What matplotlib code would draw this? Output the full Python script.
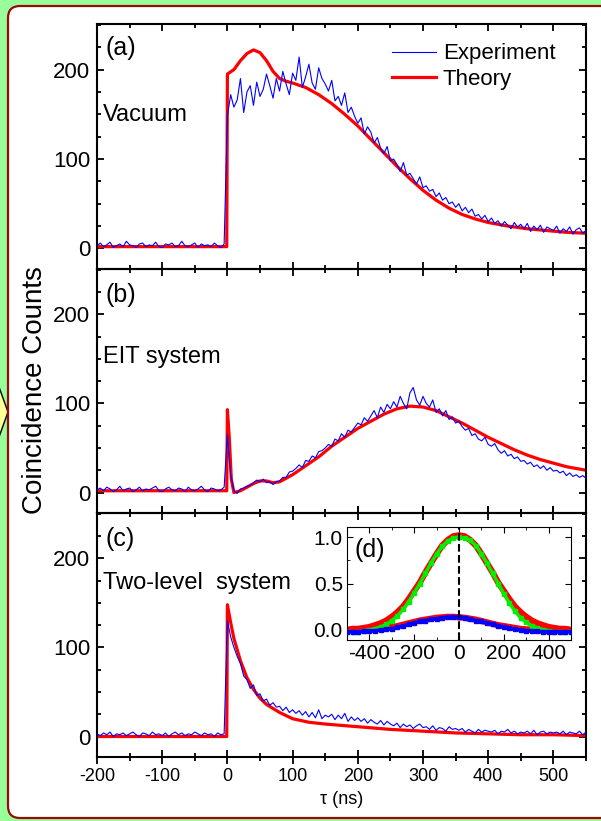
import numpy as np
import matplotlib
matplotlib.use('Agg')
import matplotlib.pyplot as plt
from matplotlib.ticker import MultipleLocator
from matplotlib.patches import FancyBboxPatch, Polygon
from matplotlib.transforms import IdentityTransform

plt.rcParams['font.family'] = ['Liberation Sans', 'DejaVu Sans']
plt.rcParams['axes.unicode_minus'] = False

# ---- data ----
t_exp = np.arange(-200, 551, 5)

exp_a = [3, 6, 2, 4, 7, 1, 3, 5, 2, 8, 4, 3, 1, 5, 6, 2, 4, 3, 7, 2,
         1, 5, 4, 6, 2, 3, 8, 3, 2, 4, 6, 1, 5, 3, 4, 2, 6, 3, 1, 5,
         148, 172, 158, 166, 190, 152, 175, 182, 160, 186, 170,
         178, 195, 182, 168, 190, 176, 198, 184, 172, 196,
         188, 214, 180, 192, 206, 185, 178, 202, 190, 184,
         176, 188, 165, 170, 160, 174, 152, 158, 148, 140,
         146, 128, 136, 130, 118, 124, 112, 106, 114, 98,
         100, 94, 86, 96, 82, 84, 78, 72, 80, 68,
         70, 64, 66, 58, 62, 54, 57, 50, 52, 46,
         50, 42, 46, 40, 44, 36, 38, 33, 37, 30,
         34, 28, 31, 25, 30, 26, 22, 29, 24, 27,
         22, 28, 19, 25, 21, 26, 18, 24, 22, 20,
         25, 17, 22, 19, 24, 16, 21, 23, 17, 20]

exp_b = [3, 5, 2, 6, 4, 1, 3, 7, 2, 4, 5, 1, 3, 6, 2, 4, 3, 5, 7, 2,
         1, 4, 6, 3, 2, 5, 4, 1, 6, 3, 2, 4, 7, 3, 1, 5, 4, 2, 3, 6,
         65, 20, 2, -1, 4, 5, 7, 8, 11, 14, 12, 15, 11, 12, 9, 12, 13, 17, 17, 23, 24,
         27, 31, 28, 36, 35, 41, 39, 46, 47, 50,
         54, 52, 60, 58, 66, 62, 70, 68, 73, 78,
         76, 84, 80, 86, 92, 84, 96, 90, 99, 94,
         102, 96, 108, 100, 94, 112, 118, 104, 98, 108,
         100, 96, 104, 90, 94, 86, 92, 82, 85, 78,
         80, 74, 70, 72, 64, 66, 60, 58, 62, 54,
         52, 55, 48, 44, 47, 41, 43, 38, 40, 35,
         36, 32, 34, 29, 31, 27, 30, 25, 28, 24,
         25, 22, 24, 19, 22, 18, 20, 17, 19, 16]

exp_c = [3, 1, 4, 2, 5, 0, 3, 2, 4, 1, 3, 5, 2, 0, 4, 3, 1, 5, 2, 3,
         1, 4, 0, 3, 5, 2, 4, 1, 3, 2, 5, 3, 1, 4, 2, 3, 0, 4, 2, 3,
         130,
         112, 100, 90, 82, 68, 64, 54, 58, 46, 48,
         40, 42, 35, 38, 33, 34, 29, 33, 27, 30,
         26, 29, 24, 28, 22, 27, 21, 30, 20, 24,
         22, 25, 19, 24, 20, 26, 17, 22, 18, 21,
         17, 20, 15, 19, 16, 14, 18, 13, 17, 14,
         12, 15, 10, 14, 11, 13, 9, 12, 14, 10,
         11, 8, 12, 7, 10, 9, 6, 11, 8, 9,
         7, 9, 5, 8, 6, 4, 8, 5, 7, 6,
         5, 7, 3, 6, 5, 8, 4, 6, 3, 5,
         4, 6, 3, 7, 2, 5, 6, 3, 5, 4,
         5, 3, 6, 2, 5, 4, 3, 6, 2, 5]

t_th_a = [-200, -1, 0, 10, 20, 30, 40, 50, 60, 70, 80, 90, 100, 120, 140, 160, 180,
          200, 220, 240, 260, 280, 300, 320, 340, 360, 380, 400, 430, 460, 490, 520, 550]
th_a = [2, 2, 195, 200, 210, 218, 222, 219, 210, 198, 190, 187, 185, 180, 172, 162, 150,
        137, 122, 107, 92, 78, 65, 54, 45, 38, 33, 29, 25, 22, 20, 18, 17]

t_th_b = [-200, -1, 0, 3, 6, 10, 20, 30, 40, 50, 60, 70, 80, 90, 100, 120, 140, 160, 180,
          200, 220, 240, 260, 280, 300, 320, 340, 360, 380, 400, 420, 440, 460, 480,
          500, 520, 550]
th_b = [2, 2, 93, 60, 15, 0, 2, 6, 10, 13, 13, 11, 12, 16, 20, 30, 40, 52, 62,
        72, 80, 88, 94, 97, 96, 92, 85, 78, 70, 62, 55, 48, 42, 37,
        33, 29, 25]

t_th_c = [-200, -1, 0, 5, 10, 20, 30, 40, 50, 60, 80, 100, 125, 150, 200, 250, 300,
          350, 400, 450, 500, 550]
th_c = [0, 0, 148, 128, 110, 85, 66, 53, 43, 36, 27, 20, 16, 14, 11, 8, 6,
        4, 3, 2, 2, 1]

# inset (d)
t_d = np.arange(-500, 501, 25)
green_d = [-0.02, -0.02, -0.02, -0.01, 0.00, 0.01, 0.03, 0.06, 0.10, 0.15, 0.22,
           0.30, 0.40, 0.50, 0.61, 0.72, 0.82, 0.90, 0.96, 0.99, 1.00,
           0.99, 0.97, 0.91, 0.82, 0.72, 0.61, 0.50, 0.39, 0.29, 0.20,
           0.13, 0.08, 0.04, 0.02, 0.00, -0.01, -0.02, -0.02, -0.02, -0.02]
red_d1 = [0.00, 0.01, 0.01, 0.02, 0.03, 0.05, 0.07, 0.10, 0.14, 0.19, 0.25,
          0.33, 0.42, 0.51, 0.62, 0.72, 0.82, 0.91, 0.97, 1.01, 1.02,
          1.01, 0.97, 0.91, 0.82, 0.72, 0.62, 0.51, 0.42, 0.33, 0.25,
          0.19, 0.14, 0.10, 0.07, 0.05, 0.03, 0.02, 0.01, 0.01, 0.00]
blue_d = [-0.02, -0.02, -0.02, -0.015, -0.01, -0.01, 0.00, 0.005, 0.01, 0.025, 0.04,
          0.06, 0.075, 0.09, 0.10, 0.115, 0.12, 0.13, 0.135, 0.14, 0.14,
          0.13, 0.12, 0.10, 0.09, 0.075, 0.06, 0.045, 0.03, 0.015, 0.005,
          0.00, -0.01, -0.01, -0.015, -0.02, -0.02, -0.02, -0.02, -0.02, -0.02]
red_d2 = [-0.01, -0.01, -0.01, -0.005, 0.00, 0.005, 0.01, 0.02, 0.03, 0.04, 0.055,
          0.07, 0.085, 0.10, 0.11, 0.12, 0.13, 0.135, 0.14, 0.14, 0.135,
          0.13, 0.12, 0.11, 0.095, 0.08, 0.065, 0.05, 0.04, 0.03, 0.02,
          0.01, 0.005, 0.00, -0.005, -0.01, -0.01, -0.01, -0.01, -0.01, -0.01]

panels = [
    ('(a)', 'Vacuum', exp_a, t_th_a, th_a, 0.629),
    ('(b)', 'EIT system', exp_b, t_th_b, th_b, 0.639),
    ('(c)', 'Two-level  system', exp_c, t_th_c, th_c, 0.713),
]

# ---- figure ----
fig = plt.figure(figsize=(6.01, 8.21), dpi=100, facecolor='#99FF99')

# yellow arrow poking in from the left, behind the frame
arrow = Polygon([(-10, 821 - 362), (8, 821 - 412), (-10, 821 - 462)], closed=True,
                facecolor='#FFFF99', edgecolor='black', lw=1,
                transform=IdentityTransform(), zorder=-2)
fig.add_artist(arrow)
frame = FancyBboxPatch((8, 821 - 818), 640, 812, boxstyle='round,pad=0,rounding_size=12',
                       facecolor='white', edgecolor='#9B0A0A', lw=1.6,
                       transform=IdentityTransform(), zorder=-1)
fig.add_artist(frame)

left, width = 97 / 601, 489 / 601
bottoms = [1 - 269 / 821, 1 - 513 / 821, 1 - 757 / 821]
heights = [245 / 821, 244 / 821, 244 / 821]

axes = []
for i, (tag, name, exp, tt, th, ny) in enumerate(panels):
    ax = fig.add_axes([left, bottoms[i], width, heights[i]])
    ax.patch.set_alpha(0)
    ax.plot(tt, th, color='red', lw=2.3, label='Theory', zorder=2)
    ax.plot(t_exp, exp, color='blue', lw=0.8, label='Experiment', zorder=3)
    ax.set_xlim(-200, 550)
    ax.set_ylim(-23, 251)
    ax.xaxis.set_major_locator(MultipleLocator(100))
    ax.xaxis.set_minor_locator(MultipleLocator(50))
    ax.yaxis.set_major_locator(MultipleLocator(100))
    ax.yaxis.set_minor_locator(MultipleLocator(25))
    for s in ax.spines.values():
        s.set_linewidth(1.5)
    ax.tick_params(which='both', direction='in', top=True, right=True, width=1.3)
    ax.tick_params(which='major', length=5)
    ax.tick_params(which='minor', length=3)
    ax.tick_params(axis='y', labelsize=16, pad=5)
    if i < 2:
        ax.tick_params(axis='x', labelbottom=False)
    else:
        ax.tick_params(axis='x', which='major', direction='inout', length=10, labelsize=13, pad=3)
        ax.tick_params(axis='x', which='minor', direction='inout', length=6)
        ax.set_xlabel('\u03c4 (ns)', fontsize=13, labelpad=4)
    ax.text(0.018, 1 - 24 / 245 if i == 0 else 1 - 26 / 244, tag, transform=ax.transAxes,
            fontsize=18, va='center', ha='left')
    ax.text(0.012, ny, name, transform=ax.transAxes, fontsize=17, va='center', ha='left')
    axes.append(ax)

h, l = axes[0].get_legend_handles_labels()
axes[0].legend(h[::-1], l[::-1], loc='upper right', bbox_to_anchor=(0.965, 0.975),
               frameon=False, fontsize=16, handlelength=2.0, handletextpad=0.3,
               labelspacing=0.2, borderpad=0.1)

fig.text(35 / 601, 1 - 390 / 821, 'Coincidence Counts', rotation=90, fontsize=20,
         ha='center', va='center')

# inset (d)
axd = fig.add_axes([347 / 601, 1 - 640 / 821, 224 / 601, 113 / 821])
axd.plot(t_d, red_d1, color='red', lw=4.5, zorder=2)
axd.plot(t_d, red_d2, color='red', lw=4.5, zorder=2)
axd.plot(t_d, green_d, color='#00EE00', lw=2.5, marker='s', ms=3, zorder=3)
axd.plot(t_d, blue_d, color='blue', lw=2.5, marker='s', ms=3, zorder=3)
axd.axvline(0, color='black', ls='--', lw=1.5, zorder=4)
axd.set_xlim(-500, 500)
axd.set_ylim(-0.11, 1.11)
axd.xaxis.set_major_locator(MultipleLocator(200))
axd.xaxis.set_minor_locator(MultipleLocator(100))
axd.yaxis.set_major_locator(MultipleLocator(0.5))
axd.yaxis.set_minor_locator(MultipleLocator(0.25))
axd.tick_params(which='both', direction='in', top=True, right=True, labelsize=15, pad=3)
axd.tick_params(which='major', length=4)
axd.tick_params(which='minor', length=2)
axd.text(0.035, 0.80, '(d)', transform=axd.transAxes, fontsize=18, va='center', ha='left')

fig.savefig('out.png', dpi=100, facecolor=fig.get_facecolor())
